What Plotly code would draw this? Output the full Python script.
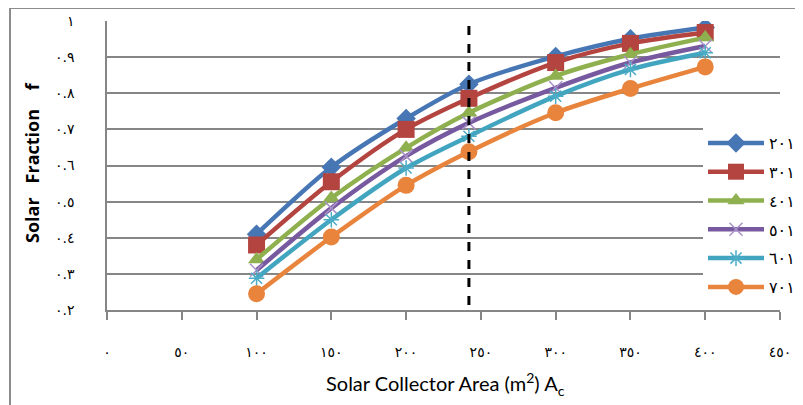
import plotly.graph_objects as go

# ---- data ----
collector_area = [100, 150, 200, 242, 300, 350, 400]
series_names = ["٢٠١", "٣٠١", "٤٠١", "٥٠١", "٦٠١", "٧٠١"]
f_200 = [0.41, 0.595, 0.73, 0.825, 0.902, 0.951, 0.982]
f_300 = [0.38, 0.555, 0.70, 0.786, 0.885, 0.938, 0.968]
f_400 = [0.34, 0.51, 0.649, 0.746, 0.848, 0.908, 0.954]
f_500 = [0.31, 0.482, 0.626, 0.718, 0.815, 0.885, 0.931]
f_600 = [0.288, 0.45, 0.593, 0.681, 0.792, 0.866, 0.912]
f_700 = [0.245, 0.402, 0.545, 0.638, 0.746, 0.813, 0.873]
design_area = 242

x_tickvals = [0, 50, 100, 150, 200, 250, 300, 350, 400, 450]
x_ticktext = ["٠", "٥٠", "١٠٠", "١٥٠", "٢٠٠", "٢٥٠", "٣٠٠", "٣٥٠", "٤٠٠", "٤٥٠"]
y_tickvals = [0.2, 0.3, 0.4, 0.5, 0.6, 0.7, 0.8, 0.9, 1.0]
y_ticktext = ["٠.٢", "٠.٣", "٠.٤", "٠.٥", "٠.٦", "٠.٧", "٠.٨", "٠.٩", "١"]

all_series = [f_200, f_300, f_400, f_500, f_600, f_700]
colors = ["#4776B4", "#B4443F", "#8FB04E", "#7759A0", "#42A5C0", "#E8843C"]
symbols = ["diamond", "square", "triangle-up", "x-thin", "asterisk", "circle"]
sizes = [15, 17, 15, 13, 13, 17]
line_colors_marker = [None, None, None, "#A891C8", "#4BACC6", None]

fig = go.Figure()
for name, ys, c, sym, sz, mlc in zip(series_names, all_series, colors, symbols, sizes, line_colors_marker):
    marker = dict(symbol=sym, size=sz, color=c)
    if mlc:
        marker["line"] = dict(color=mlc, width=1.5)
    else:
        marker["line"] = dict(width=0)
    fig.add_trace(go.Scatter(
        x=collector_area, y=ys, name=name, legendgroup=name, mode="lines+markers",
        line=dict(color=c, width=4.5, shape="spline", smoothing=0.8),
        marker=marker,
    ))

fig.add_shape(type="line", xref="x", yref="y", x0=design_area, x1=design_area,
              y0=0.164, y1=0.995, line=dict(color="black", width=3, dash="dash"))

# outer chart border (positions in page pixels converted to paper units)
fig.add_shape(type="rect", xref="paper", yref="paper",
              x0=(10 - 107) / 673, x1=(815 - 107) / 673,
              y0=(310 - 415) / 289, y1=(310 - 8) / 289,
              line=dict(color="#8c8c8c", width=2), fillcolor="rgba(0,0,0,0)", layer="above")

fig.update_layout(
    width=795, height=397,
    margin=dict(l=99, r=23, t=13, b=95, autoexpand=False),
    paper_bgcolor="white", plot_bgcolor="white",
    showlegend=True,
    legend=dict(x=(703 - 107) / 673, xanchor="left", y=(310 - 126) / 289, yanchor="top",
                bgcolor="white", font=dict(family="DejaVu Sans", size=16, color="black"),
                itemwidth=56, tracegroupgap=5),
    xaxis=dict(range=[0, 450], tickvals=x_tickvals, ticktext=x_ticktext, automargin=False,
               showgrid=False, zeroline=False, showline=True, linecolor="#868686", linewidth=1.5,
               ticks="outside", ticklen=8, tickcolor="#868686", tickwidth=1.5,
               ticklabelstandoff=20,
               tickfont=dict(family="DejaVu Sans", size=14, color="black")),
    yaxis=dict(range=[0.2, 1.0], tickvals=y_tickvals, ticktext=y_ticktext, automargin=False,
               showgrid=True, gridcolor="#868686", gridwidth=1.5, zeroline=False,
               showline=True, linecolor="#868686", linewidth=1.5,
               ticks="", ticklabelstandoff=28,
               tickfont=dict(family="DejaVu Sans", size=14, color="black")),
    annotations=[
        dict(text="Solar\u00a0\u00a0\u00a0Fraction\u00a0\u00a0\u00a0\u00a0f", xref="paper", yref="paper",
             x=(32 - 107) / 673, y=(310 - 163) / 289, textangle=-90, showarrow=False,
             xanchor="center", yanchor="middle",
             font=dict(family="Open Sans", size=18, color="black", weight=700)),
        dict(text="Solar Collector Area (m<sup>2</sup>) A<sub>c</sub>", xref="paper", yref="paper",
             x=(445 - 107) / 673, y=(310 - 384) / 289, showarrow=False,
             xanchor="center", yanchor="middle",
             font=dict(family="Lato", size=20, color="black")),
    ],
)

fig.write_html("out.html")
